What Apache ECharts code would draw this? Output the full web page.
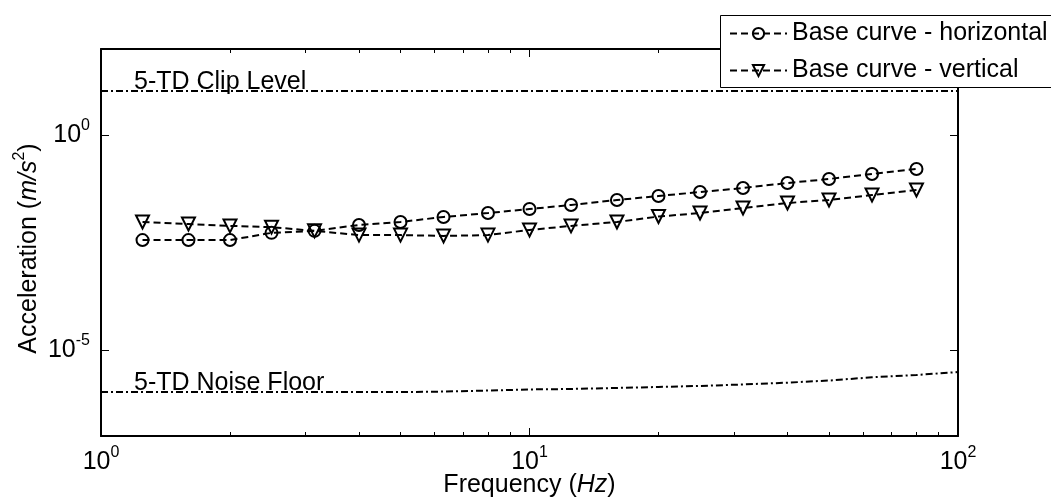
<!DOCTYPE html>
<html>
<head>
<meta charset="utf-8">
<title>Base curves</title>
<script src="https://cdn.jsdelivr.net/npm/echarts@6/dist/echarts.min.js"></script>
<style>
  html, body { margin: 0; padding: 0; background: #fff; overflow: hidden; }
  #chart { width: 1051px; height: 502px; }
</style>
</head>
<body>
<div id="chart"></div>
<script>
// third-octave band centres (Hz)
const freqs = [1.25, 1.6, 2, 2.5, 3.15, 4, 5, 6.3, 8, 10, 12.5, 16, 20, 25, 31.5, 40, 50, 63, 80]
const baseHorizontal = [0.0036, 0.0036, 0.0036, 0.0053, 0.0059, 0.0081, 0.0095, 0.0124, 0.0153, 0.019,
  0.0236, 0.0308, 0.0381, 0.0472, 0.0585, 0.0765, 0.0948, 0.124, 0.162]
const baseVertical = [0.0095, 0.0085, 0.0077, 0.0072, 0.0059, 0.0047, 0.0047, 0.0045, 0.0047, 0.0062,
  0.0077, 0.0095, 0.0127, 0.0153, 0.02, 0.0262, 0.0308, 0.0402, 0.0526]

// instrument limits
const clipFreq = [1, 100]
const clipLevel = [10.5, 10.5]
const noiseFreq = [1, 1.25, 1.6, 2, 2.5, 3.15, 4, 5, 6.3, 8, 10, 12.5, 16, 20, 25, 31.5, 40, 50, 63, 80, 100]
const noiseFloor = [1.05e-6, 1.05e-6, 1.05e-6, 1.05e-6, 1.05e-6, 1.05e-6, 1.05e-6, 1.05e-6, 1.08e-6, 1.14e-6,
  1.21e-6, 1.24e-6, 1.31e-6, 1.38e-6, 1.46e-6, 1.58e-6, 1.74e-6, 1.95e-6, 2.32e-6, 2.62e-6, 3.08e-6]

const xMajor = [1, 10, 100]
const xMinor = [2, 3, 4, 5, 6, 7, 8, 9, 20, 30, 40, 50, 60, 70, 80, 90]
const yMajor = [1e-5, 1]

const FONT = 'Liberation Sans, Arial, sans-serif'
const FS = 25
const dashDot = [7, 3, 2, 3]

const pow10 = v => '{b|10}{s|' + Math.round(Math.log10(v)) + '}'
const powRich = {
  b: { fontSize: FS, fontFamily: FONT, color: '#000' },
  s: { fontSize: 16, fontFamily: FONT, color: '#000', padding: [0, 0, 18, 0] }
}

const frame = { show: true, lineStyle: { color: '#000', width: 2 } }
const tick = (len, vals) => ({ show: true, inside: true, length: len, customValues: vals, lineStyle: { color: '#000', width: 1 } })

const logX = (extra) => Object.assign({
  type: 'log', logBase: 10, min: 1, max: 100,
  splitLine: { show: false }, minorTick: { show: false }
}, extra)
const logY = (extra) => Object.assign({
  type: 'log', logBase: 10, min: 1e-7, max: 100,
  splitLine: { show: false }, minorTick: { show: false }
}, extra)

const pair = (xs, ys) => xs.map((x, i) => [x, ys[i]])

function limitLine (name, xs, ys, text) {
  const data = pair(xs, ys)
  data[0] = {
    value: data[0],
    label: {
      show: true, formatter: text, position: 'top', align: 'left', offset: [33, 4], distance: 0,
      fontSize: FS, fontFamily: FONT, color: '#000'
    }
  }
  return {
    name: name, type: 'line', data: data,
    symbol: 'circle', symbolSize: 1, showSymbol: true, silent: true, z: 1,
    itemStyle: { color: 'rgba(0,0,0,0)' },
    lineStyle: { color: '#000', width: 2, type: dashDot }
  }
}

const chart = echarts.init(document.getElementById('chart'))
chart.setOption({
  animation: false,
  backgroundColor: '#fff',
  grid: { left: 101, right: 93, top: 49, bottom: 66, outerBoundsMode: 'none' },
  // legend frame runs off the right edge of the figure: open on the right
  graphic: [
    {
      type: 'rect', z: 23, silent: true,
      shape: { x: 1048, y: 16.5, width: 20, height: 70 },
      style: { fill: '#fff', stroke: null }
    },
    {
      type: 'polyline', z: 24, silent: true,
      shape: { points: [[1200, 15.5], [720.5, 15.5], [720.5, 87.5], [1200, 87.5]] },
      style: { fill: null, stroke: '#000', lineWidth: 1 }
    }
  ],
  legend: {
    data: ['Base curve - horizontal', 'Base curve - vertical'],
    orient: 'vertical', left: 720, top: 15, z: 21,
    itemWidth: 57, itemHeight: 14, itemGap: 12,
    padding: [6, 30, 5, 9], borderWidth: 0,
    backgroundColor: '#fff',
    textStyle: { fontSize: FS, fontFamily: FONT, color: '#000' },
    selectedMode: false
  },
  xAxis: [
    logX({
      position: 'bottom', axisLine: frame, axisTick: tick(8, xMajor),
      axisLabel: { show: true, customValues: xMajor, margin: 9, formatter: pow10, rich: powRich },
      name: '{n|Frequency (}{i|Hz}{n|)}', nameLocation: 'middle', nameGap: 37, nameMoveOverlap: false,
      nameTextStyle: {
        rich: {
          n: { fontSize: FS, fontFamily: FONT, color: '#000' },
          i: { fontSize: FS, fontFamily: FONT, color: '#000', fontStyle: 'italic' }
        }
      }
    }),
    logX({ position: 'bottom', axisLine: { show: false }, axisLabel: { show: false }, axisTick: tick(4, xMinor) }),
    logX({ position: 'top', axisLine: frame, axisLabel: { show: false }, axisTick: tick(8, xMajor) }),
    logX({ position: 'top', axisLine: { show: false }, axisLabel: { show: false }, axisTick: tick(4, xMinor) })
  ],
  yAxis: [
    logY({
      position: 'left', axisLine: frame, axisTick: tick(8, yMajor),
      axisLabel: { show: true, customValues: yMajor, margin: 11, formatter: pow10, rich: powRich },
      name: '{n|Acceleration (}{i|m/s}{s|2}{n|)}', nameLocation: 'middle', nameGap: 55, nameRotate: 90,
      nameMoveOverlap: false,
      nameTextStyle: {
        padding: [0, 12, 0, 0],
        rich: {
          n: { fontSize: FS, fontFamily: FONT, color: '#000' },
          i: { fontSize: FS, fontFamily: FONT, color: '#000', fontStyle: 'italic' },
          s: { fontSize: 16, fontFamily: FONT, color: '#000', padding: [0, 0, 18, 0] }
        }
      }
    }),
    logY({ position: 'right', axisLine: frame, axisLabel: { show: false }, axisTick: tick(8, yMajor) })
  ],
  series: [
    limitLine('5-TD Clip Level', clipFreq, clipLevel, '5-TD Clip Level'),
    limitLine('5-TD Noise Floor', noiseFreq, noiseFloor, '5-TD Noise Floor'),
    {
      name: 'Base curve - horizontal', type: 'line', data: pair(freqs, baseHorizontal),
      symbol: 'circle', symbolSize: 12, z: 3,
      lineStyle: { color: '#000', width: 2, type: [7, 4] },
      itemStyle: { color: 'rgba(255,255,255,0)', borderColor: '#000', borderWidth: 2 }
    },
    {
      name: 'Base curve - vertical', type: 'line', data: pair(freqs, baseVertical),
      symbol: 'triangle', symbolRotate: 180, symbolSize: 13, z: 3,
      lineStyle: { color: '#000', width: 2, type: [7, 4] },
      itemStyle: { color: 'rgba(255,255,255,0)', borderColor: '#000', borderWidth: 2 }
    }
  ]
})
</script>
</body>
</html>
